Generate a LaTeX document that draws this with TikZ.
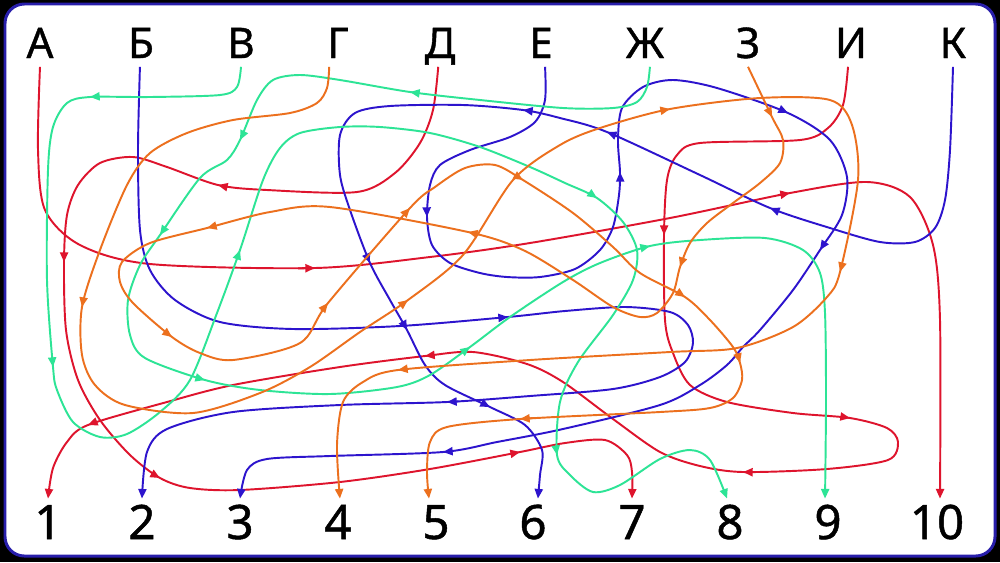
\documentclass[tikz,border=0pt]{standalone}
\usepackage{fontspec}
\setmainfont{Noto Sans}[FakeBold=1]
\usetikzlibrary{arrows.meta,calc}

\definecolor{cRed}{RGB}{222,20,45}
\definecolor{cBlue}{RGB}{45,20,205}
\definecolor{cGreen}{RGB}{45,228,150}
\definecolor{cOrange}{RGB}{236,112,30}
\definecolor{cFrame}{RGB}{40,30,170}

% arrow head in the middle of a wire: colour, point before, tip point, point after
\newcommand{\flowtip}[4]{\draw[#1, wire] ($#3+0.06*#2-0.06*#4$) -- #3;}

\begin{document}
\begin{tikzpicture}[x=0.02cm, y=-0.02cm,
  letter/.style={font=\fontsize{24}{28}\selectfont, anchor=base, text height=17pt, text depth=0pt, inner sep=0pt, outer sep=5pt},
  digit/.style={font=\fontsize{27}{32}\selectfont, anchor=base, text height=19pt, text depth=0pt, inner sep=0pt, outer sep=4pt},
  wire/.style={line width=1.1pt, -{Triangle[length=5.5pt,width=4.6pt]}}]
  \useasboundingbox (0,0) rectangle (1000,562);
  \fill[black] (0,0) rectangle (1000,562);
  \draw[fill=white, draw=cFrame, line width=1.7pt, rounded corners=11pt] (5,4) rectangle (995,556);

  \node[letter] (lA) at (40,58) {А};
  \node[letter] (lB) at (141,58) {Б};
  \node[letter] (lV) at (241,58) {В};
  \node[letter] (lG) at (338,58) {Г};
  \node[letter] (lD) at (440,58) {Д};
  \node[letter] (lE) at (541,58) {Е};
  \node[letter] (lZh) at (645,58) {Ж};
  \node[letter] (lZ) at (748,58) {З};
  \node[letter] (lI) at (851,58) {И};
  \node[letter] (lK) at (953,58) {К};

  \node[digit] (n1) at (48,539) {1};
  \node[digit] (n2) at (142,539) {2};
  \node[digit] (n3) at (240,539) {3};
  \node[digit] (n4) at (338,539) {4};
  \node[digit] (n5) at (436,539) {5};
  \node[digit] (n6) at (533,539) {6};
  \node[digit] (n7) at (632,539) {7};
  \node[digit] (n8) at (730,539) {8};
  \node[digit] (n9) at (828,539) {9};
  \node[digit] (n10) at (937,539) {10};

  % red
  \draw[cRed, wire] plot[smooth] coordinates {(lA.south) (38,150) (45,210) (80,245) (150,264) (315,268) (430,257) (530,243) (670,218) (790,193) (867,182) (910,197) (933,245) (940,320) ([xshift=1.7pt]n10.north)};
  \flowtip{cRed}{(150,264)}{(315,268)}{(430,257)}
  \flowtip{cRed}{(670,218)}{(790,193)}{(867,182)}

  \draw[cRed, wire] plot[smooth] coordinates {([xshift=-1pt]lD.south) (433,110) (420,143) (395,173) (357,192) (267,190) (218,185) (167,167) (133,157) (100,163) (78,185) (67,215) (64,262) (66,330) (78,380) (100,420) (130,455) (160,478) (190,488) (240,490) (340,482) (430,469) (520,452) (565,443) (605,440) (627,455) (632,472) (n7.north)};
  \flowtip{cRed}{(267,190)}{(218,185)}{(167,167)}
  \flowtip{cRed}{(67,215)}{(64,262)}{(66,330)}
  \flowtip{cRed}{(130,455)}{(160,478)}{(190,488)}
  \flowtip{cRed}{(430,469)}{(520,452)}{(565,443)}

  \draw[cRed, wire] plot[smooth] coordinates {([xshift=-1.7pt]lI.south) (843,105) (828,128) (800,140) (700,143) (677,155) (667,180) (664,235) (665,320) (673,353) (690,385) (727,402) (793,413) (850,418) (887,428) (898,442) (888,460) (827,469) (743,472) (700,466) (660,452) (613,419) (563,382) (527,364) (473,352) (425,356) (340,367) (233,385) (167,402) (88,425) (67,442) (53,468) (n1.north)};
  \flowtip{cRed}{(667,180)}{(664,235)}{(665,320)}
  \flowtip{cRed}{(793,413)}{(850,418)}{(887,428)}
  \flowtip{cRed}{(827,469)}{(743,472)}{(700,466)}
  \flowtip{cRed}{(473,352)}{(425,356)}{(340,367)}
  \flowtip{cRed}{(167,402)}{(88,425)}{(67,442)}

  % blue
  \draw[cBlue, wire] plot[smooth] coordinates {([xshift=-0.6pt]lB.south) (138,150) (140,230) (150,270) (175,300) (220,322) (293,329) (400,326) (508,317) (565,311) (625,307) (670,312) (688,325) (693,343) (685,362) (660,377) (613,389) (530,396) (447,402) (340,405) (233,412) (167,429) (147,452) (n2.north)};
  \flowtip{cBlue}{(400,326)}{(508,317)}{(565,311)}
  \flowtip{cBlue}{(530,396)}{(447,402)}{(340,405)}

  \draw[cBlue, wire] plot[smooth] coordinates {([xshift=2.3pt]lE.south) (545,100) (535,122) (510,137) (470,150) (440,165) (430,185) (427,217) (432,245) (450,263) (480,273) (507,277) (540,277) (575,269) (600,250) (613,227) (619,195) (620,172) (618,140) (622,108) (643,87) (673,80) (717,88) (788,113) (830,140) (847,177) (842,215) (820,250) (793,290) (760,330) (743,347) (727,365) (700,385) (660,405) (563,429) (497,442) (443,452) (330,456) (267,459) (247,470) (n3.north)};
  \flowtip{cBlue}{(430,185)}{(427,217)}{(432,245)}
  \flowtip{cBlue}{(619,195)}{(620,172)}{(618,140)}
  \flowtip{cBlue}{(717,88)}{(788,113)}{(830,140)}
  \flowtip{cBlue}{(842,215)}{(820,250)}{(793,290)}
  \flowtip{cBlue}{(497,442)}{(443,452)}{(330,456)}

  \draw[cBlue, wire] plot[smooth] coordinates {(lK.south) (950,150) (945,200) (935,228) (915,242) (880,242) (830,228) (770,208) (700,175) (607,132) (560,118) (523,110) (463,105) (390,106) (355,113) (340,135) (340,175) (350,210) (370,263) (390,300) (407,330) (425,365) (445,385) (490,407) (525,425) (542,450) (540,475) ([xshift=2.8pt]n6.north)};
  \flowtip{cBlue}{(830,228)}{(770,208)}{(700,175)}
  \flowtip{cBlue}{(700,175)}{(607,132)}{(560,118)}
  \flowtip{cBlue}{(560,118)}{(523,110)}{(463,105)}
  \flowtip{cBlue}{(350,210)}{(370,263)}{(390,300)}
  \flowtip{cBlue}{(390,300)}{(407,330)}{(425,365)}
  \flowtip{cBlue}{(445,385)}{(490,407)}{(525,425)}

  % green
  \draw[cGreen, wire] plot[smooth] coordinates {(lV.south) (237,87) (220,95) (150,97) (90,97) (67,103) (53,127) (48,170) (47,280) (53,367) (57,390) (73,422) (100,437) (127,434) (160,412) (190,380) (217,313) (240,250) (263,180) (280,148) (300,133) (340,127) (380,127) (430,133) (480,147) (530,167) (565,183) (597,198) (623,222) (637,250) (633,280) (613,315) (578,362) (560,402) (557,455) (570,475) (593,492) (620,485) (660,459) (690,450) (710,460) ([xshift=-1.7pt]n8.north)};
  \flowtip{cGreen}{(150,97)}{(90,97)}{(67,103)}
  \flowtip{cGreen}{(47,280)}{(53,367)}{(57,390)}
  \flowtip{cGreen}{(217,313)}{(240,250)}{(263,180)}
  \flowtip{cGreen}{(565,183)}{(597,198)}{(623,222)}
  \flowtip{cGreen}{(560,402)}{(557,455)}{(570,475)}

  \draw[cGreen, wire] plot[smooth] coordinates {([xshift=2.8pt]lZh.south) (647,87) (637,102) (613,108) (563,108) (480,100) (410,92) (340,80) (300,75) (273,80) (257,100) (240,140) (227,160) (200,178) (160,235) (140,265) (128,300) (130,335) (145,358) (205,380) (260,390) (330,394) (397,387) (430,375) (470,347) (510,317) (563,282) (600,263) (650,246) (700,240) (765,238) (803,250) (820,273) (825,313) (826,400) ([xshift=-1.7pt]n9.north)};
  \flowtip{cGreen}{(480,100)}{(410,92)}{(340,80)}
  \flowtip{cGreen}{(257,100)}{(240,140)}{(227,160)}
  \flowtip{cGreen}{(200,178)}{(160,235)}{(140,265)}
  \flowtip{cGreen}{(145,358)}{(205,380)}{(260,390)}
  \flowtip{cGreen}{(430,375)}{(470,347)}{(510,317)}
  \flowtip{cGreen}{(600,263)}{(650,246)}{(700,240)}

  % orange
  \draw[cOrange, wire] plot[smooth] coordinates {([xshift=-5pt]lG.south) (327,88) (317,103) (290,113) (233,120) (187,133) (150,153) (127,185) (100,250) (82,307) (82,355) (95,385) (125,405) (193,413) (260,393) (310,367) (360,332) (408,300) (463,255) (513,180) (560,145) (600,128) (670,109) (760,98) (830,100) (852,125) (858,180) (840,272) (827,297) (793,327) (737,348) (670,352) (530,360) (398,370) (363,382) (343,402) (337,445) ([xshift=1.1pt]n4.north)};
  \flowtip{cOrange}{(100,250)}{(82,307)}{(82,355)}
  \flowtip{cOrange}{(360,332)}{(408,300)}{(463,255)}
  \flowtip{cOrange}{(600,128)}{(670,109)}{(760,98)}
  \flowtip{cOrange}{(858,180)}{(840,272)}{(827,297)}
  \flowtip{cOrange}{(530,360)}{(398,370)}{(363,382)}

  \draw[cOrange, wire] plot[smooth] coordinates {(lZ.south) (772,117) (783,140) (780,163) (760,183) (733,203) (707,223) (690,243) (680,267) (673,293) (657,313) (640,317) (613,307) (573,280) (523,250) (468,232) (330,207) (270,212) (207,228) (150,243) (122,262) (120,282) (133,303) (172,337) (200,353) (233,360) (300,343) (328,303) (410,208) (435,187) (465,168) (495,165) (523,180) (573,213) (613,247) (640,273) (685,297) (710,320) (733,347) (740,363) (742,380) (733,398) (710,408) (660,412) (520,419) (447,427) (430,442) (427,472) ([xshift=-4pt]n5.north)};
  \flowtip{cOrange}{(747,67)}{(772,117)}{(783,140)}
  \flowtip{cOrange}{(690,243)}{(680,267)}{(673,293)}
  \flowtip{cOrange}{(523,250)}{(468,232)}{(330,207)}
  \flowtip{cOrange}{(270,212)}{(207,228)}{(150,243)}
  \flowtip{cOrange}{(133,303)}{(172,337)}{(200,353)}
  \flowtip{cOrange}{(300,343)}{(328,303)}{(410,208)}
  \flowtip{cOrange}{(328,303)}{(410,208)}{(435,187)}
  \flowtip{cOrange}{(495,165)}{(523,180)}{(573,213)}
  \flowtip{cOrange}{(640,273)}{(685,297)}{(710,320)}
  \flowtip{cOrange}{(733,347)}{(740,363)}{(742,380)}
  \flowtip{cOrange}{(660,412)}{(520,419)}{(447,427)}
\end{tikzpicture}
\end{document}
